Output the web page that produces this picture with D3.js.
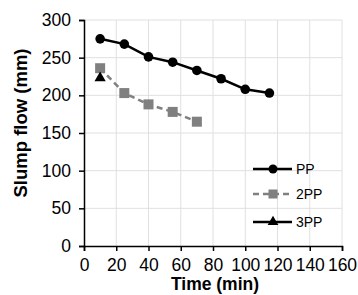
<!DOCTYPE html>
<html>
<head>
<meta charset="utf-8">
<script src="https://cdn.jsdelivr.net/npm/d3@7"></script>
<style>
  body { margin: 0; background: #fff; }
  svg { font-family: "Liberation Sans", Arial, sans-serif; }
</style>
</head>
<body>
<div id="chart"></div>
<script>
// Data
const ppTime = [10, 25, 40, 55, 70, 85, 100, 115];
const ppSlump = [275, 268, 251, 244, 233, 222, 208, 203];
const pp2Time = [10, 25, 40, 55, 70];
const pp2Slump = [236, 203, 188, 178, 165];
const pp3Time = [10];
const pp3Slump = [223];
const xTicks = [0, 20, 40, 60, 80, 100, 120, 140, 160];
const yTicks = [0, 50, 100, 150, 200, 250, 300];

const W = 358, H = 295;
const margin = { top: 20, right: 16, bottom: 49, left: 84 };
const width = W - margin.left - margin.right;
const height = H - margin.top - margin.bottom;

const svg = d3.select("#chart").append("svg")
  .attr("width", W).attr("height", H);

const g = svg.append("g")
  .attr("transform", `translate(${margin.left},${margin.top})`);

const x = d3.scaleLinear().domain([0, 160]).range([0, width]);
const y = d3.scaleLinear().domain([0, 300]).range([height, 0]);

// Gridlines
g.append("g").selectAll("line").data(xTicks.slice(1)).enter().append("line")
  .attr("x1", d => x(d)).attr("x2", d => x(d))
  .attr("y1", 0).attr("y2", height)
  .attr("stroke", "#e0e0e0").attr("stroke-width", 1);
g.append("g").selectAll("line").data(yTicks.slice(1)).enter().append("line")
  .attr("x1", 0).attr("x2", width)
  .attr("y1", d => y(d)).attr("y2", d => y(d))
  .attr("stroke", "#e0e0e0").attr("stroke-width", 1);

// Axes
const xAxis = g.append("g")
  .attr("transform", `translate(0,${height})`)
  .call(d3.axisBottom(x).tickValues(xTicks).tickSize(5).tickPadding(8));
const yAxis = g.append("g")
  .call(d3.axisLeft(y).tickValues(yTicks).tickSize(5).tickPadding(8));

[xAxis, yAxis].forEach(a => {
  a.select(".domain").attr("stroke", "#000").attr("stroke-width", 1.5);
  a.selectAll(".tick line").attr("stroke", "#000").attr("stroke-width", 1.5);
  a.selectAll(".tick text").attr("fill", "#000")
    .style("font-size", "17.5px")
    .style("font-family", "Liberation Sans, Arial, sans-serif");
});

// Axis titles
svg.append("text")
  .attr("x", 215).attr("y", 290)
  .attr("text-anchor", "middle")
  .style("font-size", "17.5px").style("font-weight", "bold")
  .text("Time (min)");
svg.append("text")
  .attr("transform", "translate(27,123) rotate(-90)")
  .attr("text-anchor", "middle")
  .style("font-size", "18.5px").style("font-weight", "bold")
  .text("Slump flow (mm)");

const line = d3.line().x(d => x(d[0])).y(d => y(d[1]));

const pp = ppTime.map((t, i) => [t, ppSlump[i]]);
const pp2 = pp2Time.map((t, i) => [t, pp2Slump[i]]);
const pp3 = pp3Time.map((t, i) => [t, pp3Slump[i]]);

// PP
g.append("path").datum(pp).attr("d", line)
  .attr("fill", "none").attr("stroke", "#000").attr("stroke-width", 2.5);
g.selectAll(".pp").data(pp).enter().append("circle")
  .attr("cx", d => x(d[0])).attr("cy", d => y(d[1])).attr("r", 4.8)
  .attr("fill", "#000");

// 2PP
g.append("path").datum(pp2).attr("d", line)
  .attr("fill", "none").attr("stroke", "#808080").attr("stroke-width", 2.5)
  .attr("stroke-dasharray", "6,4");
g.selectAll(".pp2").data(pp2).enter().append("rect")
  .attr("x", d => x(d[0]) - 5).attr("y", d => y(d[1]) - 5)
  .attr("width", 10).attr("height", 10)
  .attr("fill", "#808080");

// 3PP
const tri = d3.symbol().type(d3.symbolTriangle).size(55);
g.selectAll(".pp3").data(pp3).enter().append("path")
  .attr("d", tri)
  .attr("transform", d => `translate(${x(d[0])},${y(d[1])})`)
  .attr("fill", "#000");

// Legend
const legend = svg.append("g");
const items = [
  { name: "PP", color: "#000", dash: null, shape: "circle", y: 169 },
  { name: "2PP", color: "#808080", dash: "6,4", shape: "square", y: 194 },
  { name: "3PP", color: "#000", dash: null, shape: "triangle", y: 222 }
];
items.forEach(it => {
  legend.append("line")
    .attr("x1", 253).attr("x2", 292).attr("y1", it.y).attr("y2", it.y)
    .attr("stroke", it.color).attr("stroke-width", 2.5)
    .attr("stroke-dasharray", it.dash);
  if (it.shape === "circle") {
    legend.append("circle").attr("cx", 273).attr("cy", it.y).attr("r", 4.5).attr("fill", it.color);
  } else if (it.shape === "square") {
    legend.append("rect").attr("x", 268.5).attr("y", it.y - 4.5).attr("width", 9).attr("height", 9).attr("fill", it.color);
  } else {
    legend.append("path").attr("d", d3.symbol().type(d3.symbolTriangle).size(50))
      .attr("transform", `translate(273,${it.y})`).attr("fill", it.color);
  }
  legend.append("text")
    .attr("x", 296).attr("y", it.y).attr("dy", "0.35em")
    .style("font-size", "14px").attr("fill", "#000")
    .text(it.name);
});
</script>
</body>
</html>
